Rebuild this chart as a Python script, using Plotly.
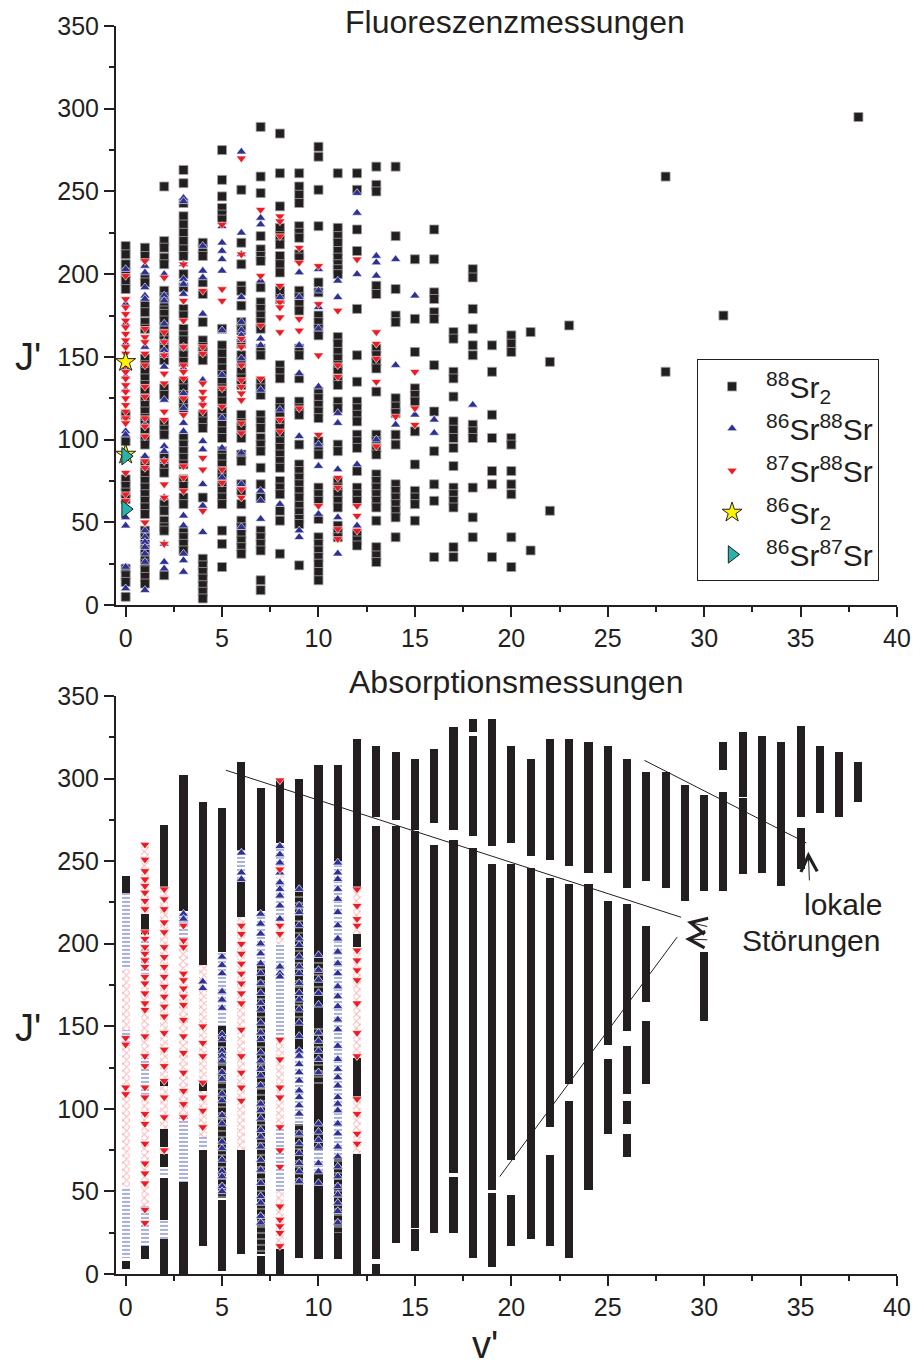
import plotly.graph_objects as go

# ---------------- Fluorescence measurements: J' values per v' ----------------
fl_88sr2 = {
    0: [217, 212, 206, 201, 196, 191, 115, 99, 76, 72, 68, 64, 22, 18, 14, 5],
    1: [216, 211, 198, 195, 182, 177, 171, 167, 149, 145, 141, 137, 133, 129, 125, 121, 117, 113, 109, 105,
        101, 97, 87, 83, 79, 75, 71, 67, 63, 59, 55, 45, 41, 37, 33, 29, 25, 21, 17, 13],
    2: [253, 220, 216, 210, 206, 190, 186, 182, 178, 176, 172, 168, 164, 160, 156, 152, 148, 131, 127, 110,
        106, 103, 90, 84, 80, 61, 57, 51, 47, 45, 18],
    3: [263, 255, 243, 235, 230, 225, 220, 215, 211, 200, 192, 179, 175, 167, 163, 160, 155, 151, 147, 135,
        131, 127, 123, 119, 101, 97, 93, 89, 85, 76, 72, 65, 61, 45, 41, 37, 33],
    4: [219, 215, 211, 195, 188, 171, 160, 156, 152, 148, 115, 111, 107, 65, 28, 24, 20, 16, 12, 8, 4],
    5: [275, 257, 247, 240, 236, 233, 167, 157, 152, 147, 143, 139, 135, 131, 127, 123, 117, 113, 109, 105,
        101, 93, 89, 85, 81, 77, 73, 69, 65, 61, 45, 37, 23],
    6: [251, 219, 206, 193, 190, 181, 171, 166, 158, 151, 147, 141, 137, 133, 115, 110, 106, 101, 91, 87,
        73, 69, 61, 51, 47, 43, 39, 35, 31],
    7: [289, 259, 249, 223, 215, 211, 208, 192, 183, 179, 175, 171, 167, 155, 151, 135, 131, 127, 115, 111,
        107, 101, 97, 93, 83, 73, 65, 45, 41, 37, 33, 15, 9],
    8: [285, 261, 241, 228, 223, 218, 211, 206, 201, 190, 185, 145, 141, 137, 123, 119, 115, 111, 107, 103,
        99, 95, 91, 87, 83, 75, 71, 67, 57, 51, 31],
    9: [261, 253, 248, 243, 229, 225, 222, 212, 210, 190, 186, 182, 178, 155, 151, 137, 123, 119, 115, 97,
        85, 81, 77, 73, 69, 65, 60, 56, 52, 49, 24],
    10: [277, 271, 251, 229, 195, 189, 175, 171, 167, 163, 129, 125, 121, 117, 113, 99, 95, 91, 71, 67, 63,
         52, 41, 37, 33, 29, 25, 20, 15],
    11: [261, 228, 223, 219, 214, 210, 206, 203, 200, 162, 158, 153, 149, 145, 141, 137, 133, 123, 119, 97,
         93, 75, 71, 67, 63, 59, 48, 44, 41],
    12: [261, 251, 227, 214, 179, 151, 135, 123, 119, 115, 111, 103, 99, 95, 81, 71, 67, 63, 43, 39, 36],
    13: [265, 254, 250, 193, 188, 155, 151, 147, 143, 129, 103, 99, 95, 91, 79, 75, 71, 67, 63, 59, 51,
         35, 30, 26],
    14: [265, 223, 191, 175, 171, 125, 120, 116, 103, 97, 73, 69, 65, 61, 57, 53, 41],
    15: [209, 173, 153, 131, 127, 123, 105, 85, 69, 65, 61, 51],
    16: [227, 209, 189, 185, 177, 173, 145, 117, 93, 73, 63, 29],
    17: [165, 161, 141, 137, 126, 111, 106, 101, 95, 84, 71, 67, 63, 59, 35, 29],
    18: [203, 198, 179, 167, 157, 151, 109, 105, 101, 71, 53, 41],
    19: [157, 141, 115, 101, 81, 73, 29],
    20: [163, 158, 153, 101, 97, 81, 73, 67, 41, 23],
    21: [165, 33],
    22: [147, 57],
    23: [169],
    28: [259, 141],
    31: [175],
    38: [295],
}

fl_86sr88sr = {
    0: [203, 182, 170, 158, 143, 138, 130, 105, 103, 53, 48, 23, 10],
    1: [205, 201, 192, 187, 185, 156, 109, 90, 45, 41, 38, 35, 31, 26, 9],
    2: [200, 187, 184, 170, 159, 154, 151, 144, 124, 96, 93, 87, 65, 37, 26, 22],
    3: [246, 244, 206, 197, 194, 188, 156, 143, 128, 119, 110, 105, 54, 48, 31, 27, 20],
    4: [217, 202, 198, 176, 136, 122, 99, 94, 73, 60, 44],
    5: [229, 219, 214, 209, 202, 166, 139, 113, 95, 77],
    6: [274, 225, 212, 186, 171, 166, 163, 160, 149, 92, 73, 47],
    7: [234, 230, 196, 161, 157, 130, 69, 63, 52],
    8: [186, 118, 61],
    9: [201, 186, 157, 140, 102, 45, 41],
    10: [203, 190, 180, 167, 132, 97, 84, 55],
    11: [196, 186, 116, 110, 82, 53, 31],
    12: [249, 237, 200, 85, 48],
    13: [211, 207, 199, 100],
    14: [209, 145, 109],
    15: [187, 115],
    16: [112, 104],
    18: [121],
}

fl_87sr88sr = {
    0: [199, 185, 180, 176, 172, 168, 164, 160, 156, 152, 145, 141, 137, 133, 129, 125, 121, 117, 113, 110,
        80, 67, 63],
    1: [208, 167, 162, 159, 152, 145, 132, 126, 113, 108, 102, 87, 83, 50],
    2: [198, 165, 159, 151, 140, 134, 117, 112, 87, 73, 65, 37],
    3: [206, 184, 172, 156, 145, 141, 137, 125, 115, 84, 77, 69],
    4: [190, 156, 152, 134, 129, 125, 121, 117, 89, 82, 57],
    5: [230, 191, 184, 131, 120, 82, 74],
    6: [270, 212, 161, 156, 145, 136, 132, 128, 124, 110, 104, 70, 65],
    7: [239, 199, 169, 137],
    8: [235, 232, 223, 193, 183, 180, 174, 165, 112, 105],
    9: [216, 207, 173, 166, 119],
    10: [205, 182, 151, 103, 60],
    11: [178, 145, 138, 77, 71, 46, 40],
    12: [209, 60, 54, 45],
    13: [165, 158, 149, 135, 96],
    14: [114],
    15: [141, 119, 109],
}

fl_86sr2 = {0: [147, 91]}
fl_86sr87sr = {0: [90, 58]}

# ------------- Absorption measurements: (v', J' from, J' to) ranges -------------
ab_88sr2 = [
    (0, 231, 241), (0, 3, 8),
    (1, 206, 218), (1, 9, 17),
    (2, 233, 272), (2, 114, 117), (2, 77, 88), (2, 65, 73), (2, 33, 58), (2, 0, 21),
    (3, 220, 302), (3, 0, 56),
    (4, 187, 286), (4, 111, 117), (4, 17, 75),
    (5, 195, 282), (5, 138, 150), (5, 2, 45),
    (6, 257, 310), (6, 216, 239), (6, 12, 75),
    (7, 220, 294), (7, 0, 11),
    (8, 261, 300), (8, 0, 15),
    (9, 235, 300), (9, 136, 154), (9, 10, 54),
    (10, 195, 308), (10, 150, 168), (10, 75, 115), (10, 9, 62),
    (11, 250, 308), (11, 9, 25),
    (12, 234, 324), (12, 198, 206), (12, 106, 131), (12, 0, 73),
    (13, 277, 320), (13, 9, 271), (13, 0, 6),
    (14, 275, 316), (14, 19, 271),
    (15, 269, 312), (15, 28, 268), (15, 14, 27),
    (16, 273, 318), (16, 25, 260),
    (17, 269, 331), (17, 61, 263), (17, 25, 59),
    (18, 328, 336), (18, 265, 326), (18, 10, 258),
    (19, 259, 336), (19, 51, 248), (19, 4, 49),
    (20, 261, 320), (20, 69, 248), (20, 17, 48),
    (21, 253, 312), (21, 21, 246),
    (22, 251, 324), (22, 89, 240), (22, 17, 72),
    (23, 247, 324), (23, 115, 236), (23, 10, 105),
    (24, 243, 322), (24, 51, 236),
    (25, 243, 320), (25, 139, 226), (25, 85, 130),
    (26, 234, 312), (26, 147, 224), (26, 109, 138), (26, 91, 105), (26, 71, 85),
    (27, 238, 304), (27, 165, 211), (27, 115, 153),
    (28, 234, 304),
    (29, 226, 296),
    (30, 232, 290), (30, 153, 195),
    (31, 305, 322), (31, 232, 292),
    (32, 289, 328), (32, 242, 288),
    (33, 243, 326),
    (34, 235, 322),
    (35, 277, 332), (35, 245, 270),
    (36, 279, 320),
    (37, 277, 316),
    (38, 286, 310),
]

# 86Sr88Sr ranges: dense runs on open background, and runs interleaved with 88Sr2 lines
ab_86sr88sr = [
    (0, 185, 231), (0, 138, 148), (0, 10, 53),
    (1, 180, 206), (1, 107, 131), (1, 17, 41),
    (2, 59, 65), (2, 21, 33),
    (3, 202, 220), (3, 56, 95),
    (4, 76, 83),
    (5, 150, 195),
    (6, 239, 257),
    (7, 188, 220),
    (8, 200, 261), (8, 143, 200), (8, 50, 91),
    (9, 91, 136),
    (10, 62, 75),
    (11, 70, 250),
]
ab_86sr88sr_mixed = [
    (5, 46, 138), (7, 12, 188), (9, 154, 235), (9, 54, 91),
    (10, 168, 195), (10, 115, 150), (11, 25, 70),
]

ab_87sr88sr = [
    (0, 148, 185), (0, 53, 138),
    (1, 218, 260), (1, 131, 180), (1, 41, 107),
    (2, 117, 233), (2, 88, 114), (2, 73, 77),
    (3, 95, 202),
    (4, 118, 187), (4, 83, 111),
    (6, 75, 216),
    (8, 239, 247), (8, 200, 215), (8, 91, 143), (8, 15, 50),
    (12, 206, 234), (12, 131, 198), (12, 73, 106),
]

# Individually resolved lines in the absorption panel (v' -> J')
ab_86sr88sr_lines = {
    3: [218, 215],
    4: [177, 173],
    5: [192, 187, 182, 171, 166, 161, 145, 142, 135, 132, 129, 122, 118, 109, 105, 96, 91, 80, 76, 69,
        62, 59, 53, 50],
    6: [255, 243, 239],
    7: [218, 212, 206, 200, 194, 188, 182, 176, 170, 164, 160, 152, 146, 142, 134, 129, 124, 120, 114,
        103, 99, 94, 87, 83, 77, 69, 63, 55, 47, 43, 35, 31],
    8: [259, 254, 249, 243, 237, 233, 229, 223, 215, 186, 182, 180],
    9: [233, 223, 219, 211, 203, 199, 192, 186, 182, 176, 170, 166, 160, 152, 144, 135, 132, 127, 122,
        117, 111, 107, 102, 97, 85, 79, 73, 67, 62, 56],
    10: [193, 184, 178, 170, 163, 146, 141, 135, 130, 122, 91, 86, 81, 77, 67, 62, 55],
    11: [249, 243, 239, 233, 227, 219, 211, 203, 195, 188, 182, 174, 168, 162, 154, 148, 138, 130, 124,
         119, 114, 107, 103, 99, 91, 85, 77, 71, 65, 59, 53, 48, 43, 38, 31],
}
ab_87sr88sr_lines = {
    0: [143, 139, 113, 109],
    1: [260, 251, 244, 239, 235, 231, 226, 221, 207, 203, 198, 194, 190, 186, 180, 176, 170, 164, 160,
        144, 132, 126, 113, 107, 97, 91, 79, 67, 61, 55, 39, 31],
    2: [233, 227, 221, 213, 207, 198, 192, 186, 180, 174, 168, 162, 156, 146, 136, 126, 117, 107, 95, 75],
    3: [211, 202, 198, 182, 178, 173, 168, 163, 154, 144, 134, 122, 111, 103, 95],
    4: [150, 140, 132, 116, 107, 99, 89],
    6: [211, 206, 200, 194, 188, 182, 176, 170, 164, 148, 132, 122, 113, 105],
    8: [299, 245, 211, 206, 142, 130, 113, 107, 89, 75, 65, 41, 33, 29, 25, 17],
    12: [233, 223, 215, 211, 196, 190, 184, 178, 164, 146, 132, 106, 97, 85, 79],
}

# Guide lines (v', J') and labels in the absorption panel
guide_lines = [
    ((5.2, 305), (28.8, 216)),
    ((19.4, 59), (28.6, 204)),
    ((26.9, 311), (35.3, 261)),
]

BLACK = "#231f20"
BLUE = "#2e3192"
RED = "#ed1c24"
FONT = "Liberation Sans, Arial, Helvetica, sans-serif"


def flatten(d):
    xs, ys = [], []
    for v, js in d.items():
        for j in js:
            xs.append(v)
            ys.append(j)
    return xs, ys


def ranges(segs):
    return ([s[0] for s in segs], [s[1] for s in segs], [s[2] - s[1] for s in segs])


fig = go.Figure()

# ---- top panel: scatter ----
specs = [
    (fl_88sr2, "<sup>88</sup>Sr<sub>2</sub>", "square", 9, BLACK, "#a0a0a0", 0.8),
    (fl_86sr88sr, "<sup>86</sup>Sr<sup>88</sup>Sr", "triangle-up", 9, BLUE, "white", 0.6),
    (fl_87sr88sr, "<sup>87</sup>Sr<sup>88</sup>Sr", "triangle-down", 9, RED, "white", 0.6),
    (fl_86sr2, "<sup>86</sup>Sr<sub>2</sub>", "star", 15, "#fff200", BLACK, 1),
    (fl_86sr87sr, "<sup>86</sup>Sr<sup>87</sup>Sr", "triangle-right", 15, "#2ab3ae", BLACK, 1),
]
for data, name, sym, size, col, lcol, lw in specs:
    xs, ys = flatten(data)
    fig.add_trace(go.Scatter(
        x=xs, y=ys, mode="markers", name=name,
        marker=dict(symbol=sym, size=size, color=col, line=dict(color=lcol, width=lw)),
        xaxis="x", yaxis="y"))

# ---- bottom panel: measured J' ranges as bars ----
BW = 0.42
x, b, h = ranges(ab_88sr2)
fig.add_trace(go.Bar(x=x, base=b, y=h, width=BW, marker=dict(color=BLACK, line=dict(width=0)),
                     showlegend=False, xaxis="x2", yaxis="y2"))
x, b, h = ranges(ab_86sr88sr_mixed)
fig.add_trace(go.Bar(x=x, base=b, y=h, width=BW,
                     marker=dict(color=BLACK, line=dict(width=0),
                                 pattern=dict(shape="-", fgcolor="white", bgcolor=BLACK, size=6, solidity=0.25)),
                     showlegend=False, xaxis="x2", yaxis="y2"))
x, b, h = ranges(ab_86sr88sr)
fig.add_trace(go.Bar(x=x, base=b, y=h, width=BW,
                     marker=dict(color="white", line=dict(width=0),
                                 pattern=dict(shape="-", fgcolor="#5560b8", bgcolor="white", size=4, solidity=0.5)),
                     showlegend=False, xaxis="x2", yaxis="y2"))
x, b, h = ranges(ab_87sr88sr)
fig.add_trace(go.Bar(x=x, base=b, y=h, width=BW,
                     marker=dict(color="white", line=dict(width=0),
                                 pattern=dict(shape="x", fgcolor="#f26a70", bgcolor="white", size=5, solidity=0.35)),
                     showlegend=False, xaxis="x2", yaxis="y2"))
xs, ys = flatten(ab_86sr88sr_lines)
fig.add_trace(go.Scatter(x=xs, y=ys, mode="markers", showlegend=False, xaxis="x2", yaxis="y2",
                         marker=dict(symbol="triangle-up", size=9, color=BLUE, line=dict(color="white", width=0.7))))
xs, ys = flatten(ab_87sr88sr_lines)
fig.add_trace(go.Scatter(x=xs, y=ys, mode="markers", showlegend=False, xaxis="x2", yaxis="y2",
                         marker=dict(symbol="triangle-down", size=9, color=RED, line=dict(color="white", width=0.7))))

shapes = []
for (x0, y0), (x1, y1) in guide_lines:
    shapes.append(dict(type="line", xref="x2", yref="y2", x0=x0, y0=y0, x1=x1, y1=y1,
                       line=dict(color=BLACK, width=1)))

annotations = [
    dict(text="Fluoreszenzmessungen", x=0.511, y=1.003, xref="paper", yref="paper",
         showarrow=False, font=dict(size=32, color=BLACK, family=FONT), xanchor="center", yanchor="middle"),
    dict(text="Absorptionsmessungen", x=0.512, y=0.4744, xref="paper", yref="paper",
         showarrow=False, font=dict(size=32, color=BLACK, family=FONT), xanchor="center", yanchor="middle"),
    dict(text="J'", x=-0.113, y=0.735, xref="paper", yref="paper", showarrow=False,
         font=dict(size=38, color=BLACK, family=FONT), xanchor="center", yanchor="middle"),
    dict(text="J'", x=-0.113, y=0.197, xref="paper", yref="paper", showarrow=False,
         font=dict(size=38, color=BLACK, family=FONT), xanchor="center", yanchor="middle"),
    dict(text="v'", x=0.4726, y=-0.0568, xref="paper", yref="paper", showarrow=False,
         font=dict(size=38, color=BLACK, family=FONT), xanchor="center", yanchor="middle"),
    dict(text="lokale", x=37.2, y=223.5, xref="x2", yref="y2", showarrow=False,
         font=dict(size=30, color=BLACK, family=FONT), xanchor="center", yanchor="middle"),
    dict(text="Störungen", x=35.56, y=201.7, xref="x2", yref="y2", showarrow=False,
         font=dict(size=30, color=BLACK, family=FONT), xanchor="center", yanchor="middle"),
]
# arrows
for (tx, ty), (hx, hy) in [((30.24, 210.2), (29.11, 213.2)),
                           ((30.24, 202.3), (29.01, 202.9)),
                           ((35.46, 237.4), (35.40, 255.6))]:
    annotations.append(dict(x=hx, y=hy, ax=tx, ay=ty, xref="x2", yref="y2", axref="x2", ayref="y2",
                            text="", showarrow=True, arrowhead=5, arrowsize=3.2, arrowwidth=1,
                            arrowcolor=BLACK))

axis_common = dict(showline=True, linewidth=2, linecolor=BLACK, ticks="outside", ticklen=10,
                   tickwidth=2, tickcolor=BLACK, showgrid=False, zeroline=False,
                   tickfont=dict(size=25, color=BLACK, family=FONT))
xa = dict(axis_common, range=[-0.5, 40], dtick=5, tick0=0,
          minor=dict(ticks="outside", ticklen=5, tickwidth=2, tickcolor=BLACK, dtick=2.5, tick0=0))
ya = dict(axis_common, range=[0, 350], dtick=50, tick0=0,
          minor=dict(ticks="outside", ticklen=5, tickwidth=2, tickcolor=BLACK, dtick=25, tick0=0))

fig.update_layout(
    width=923, height=1366,
    margin=dict(l=116, r=22, t=24, b=92),
    paper_bgcolor="white", plot_bgcolor="white",
    barmode="overlay", bargap=0,
    font=dict(family=FONT, color=BLACK),
    xaxis=dict(xa, domain=[0, 1], anchor="y"),
    yaxis=dict(ya, domain=[0.536, 1], anchor="x"),
    xaxis2=dict(xa, domain=[0, 1], anchor="y2"),
    yaxis2=dict(ya, domain=[0, 0.4632], anchor="x2"),
    shapes=shapes,
    annotations=annotations,
    legend=dict(x=0.744, y=0.7328, xanchor="left", yanchor="top", bgcolor="white",
                bordercolor=BLACK, borderwidth=1, font=dict(size=30, color=BLACK, family=FONT),
                itemwidth=58, tracegroupgap=0),
    showlegend=True,
)

fig.write_html("out.html")
